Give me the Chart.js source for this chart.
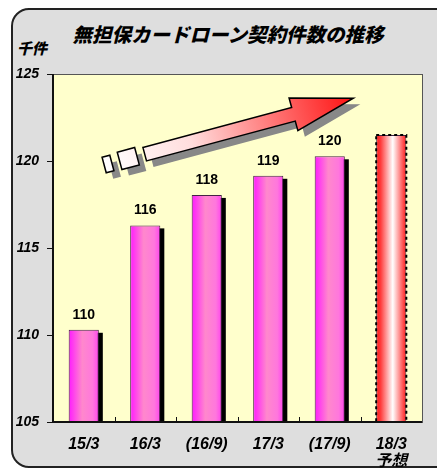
<!DOCTYPE html>
<html>
<head>
<meta charset="utf-8">
<script src="https://cdn.jsdelivr.net/npm/chart.js@4"></script>
<style>
  body { margin: 0; background: #fff; }
  #wrap { position: relative; width: 437px; height: 471px; overflow: hidden; }
  #frame {
    position: absolute; left: 11px; top: 8px; width: 440px; height: 456px;
    border: 2px solid #222; border-radius: 18px; background: #dedede;
  }
  #title {
    position: absolute; left: 0; width: 456px; top: 19px; text-align: center;
    font: italic 900 19.5px "Noto Sans CJK JP", sans-serif; color: #000;
  }
  #unit {
    position: absolute; left: 17px; top: 37px;
    font: italic 900 15px "Noto Sans CJK JP", sans-serif; color: #000;
  }
  canvas { position: absolute; left: 0; top: 0; }
</style>
</head>
<body>
<div id="wrap">
  <div id="frame"></div>
  <div id="title">無担保カードローン契約件数の推移</div>
  <div id="unit">千件</div>
  <canvas id="chart" width="437" height="471"></canvas>
</div>
<script>
const categories = ["15/3", "16/3", "(16/9)", "17/3", "(17/9)", ["18/3", "予想"]];
const counts = [110.3, 116.3, 118.05, 119.15, 120.27, 121.5];
const valueLabels = ["110", "116", "118", "119", "120", ""];
const yTicks = [105, 110, 115, 120, 125];

const chartEl = document.getElementById("chart");
const barPct = 0.49;

// horizontal gradient for each bar, built from the x scale
const barFill = (ctx) => {
  const xs = ctx.chart.scales.x;
  const area = ctx.chart.chartArea;
  if (!xs || !area) return "#ff66dd";
  const cx = xs.getPixelForValue(ctx.dataIndex);
  const w = ((area.right - area.left) / categories.length) * barPct;
  if (!isFinite(cx) || !isFinite(w)) return "#ff66dd";
  const x0 = cx - w / 2;
  const g = ctx.chart.ctx.createLinearGradient(x0, 0, x0 + w, 0);
  if (ctx.dataIndex === counts.length - 1) {
    g.addColorStop(0, "#ff1a1a");
    g.addColorStop(0.15, "#ff3c3c");
    g.addColorStop(0.55, "#ffffff");
    g.addColorStop(0.85, "#ff6666");
    g.addColorStop(1, "#ff1a1a");
  } else {
    g.addColorStop(0, "#ff1aff");
    g.addColorStop(0.45, "#ff88cc");
    g.addColorStop(0.8, "#ff77dd");
    g.addColorStop(1, "#ff44ee");
  }
  return g;
};

// arrow outline in its own rotated frame
const arrowPath = (c) => {
  c.beginPath();
  c.rect(-4, -8, 8, 16);
  c.rect(12, -9, 18, 18);
  c.moveTo(38, -7);
  c.lineTo(192, -7);
  c.lineTo(192, -17);
  c.lineTo(254, 0);
  c.lineTo(192, 17);
  c.lineTo(192, 7);
  c.lineTo(38, 7);
  c.closePath();
};

const decorPlugin = {
  id: "decor",
  beforeDraw: (chart) => {
    const c = chart.ctx;
    const a = chart.chartArea;
    c.save();
    c.fillStyle = "#ffffcc";
    c.fillRect(a.left, a.top, a.right - a.left, a.bottom - a.top);
    c.strokeStyle = "#555";
    c.lineWidth = 1;
    c.strokeRect(a.left + 0.5, a.top + 0.5, a.right - a.left, a.bottom - a.top);
    c.restore();
  },
  beforeDatasetsDraw: (chart) => {
    const c = chart.ctx;
    const a = chart.chartArea;
    const meta = chart.getDatasetMeta(0);
    c.save();
    // bar shadows
    c.fillStyle = "#000";
    meta.data.forEach((bar, i) => {
      if (i === counts.length - 1) return;
      const x0 = bar.x - bar.width / 2 + 4;
      c.fillRect(x0, bar.y + 3, bar.width, a.bottom - bar.y - 3);
    });
    // trend arrow
    const ox = a.left + 55;
    const oy = a.top + 90;
    const ang = -15 * Math.PI / 180;
    c.save();
    c.translate(ox + 7, oy + 6);
    c.rotate(ang);
    c.fillStyle = "#888888";
    arrowPath(c);
    c.fill();
    c.restore();

    c.save();
    c.translate(ox, oy);
    c.rotate(ang);
    const g = c.createLinearGradient(-4, 0, 254, 0);
    g.addColorStop(0, "#ffffff");
    g.addColorStop(0.35, "#ffdddd");
    g.addColorStop(1, "#ff1111");
    c.fillStyle = g;
    c.strokeStyle = "#000";
    c.lineWidth = 1.5;
    arrowPath(c);
    c.fill();
    c.stroke();
    c.restore();
    c.restore();
  },
  afterDatasetsDraw: (chart) => {
    const c = chart.ctx;
    const a = chart.chartArea;
    const meta = chart.getDatasetMeta(0);
    const xs = chart.scales.x;
    c.save();
    // dashed border on forecast bar
    const last = meta.data[counts.length - 1];
    c.setLineDash([3, 3]);
    c.strokeStyle = "#000";
    c.lineWidth = 2;
    c.strokeRect(last.x - last.width / 2, last.y, last.width, a.bottom - last.y);
    c.setLineDash([]);
    // value labels
    c.fillStyle = "#000";
    c.font = "bold 14px 'Liberation Sans', Arial, sans-serif";
    c.textAlign = "center";
    c.textBaseline = "bottom";
    meta.data.forEach((bar, i) => {
      if (valueLabels[i]) c.fillText(valueLabels[i], bar.x, bar.y - 8);
    });
    // axes
    c.strokeStyle = "#111";
    c.lineWidth = 2;
    c.beginPath();
    c.moveTo(a.left, a.top);
    c.lineTo(a.left, a.bottom);
    c.lineTo(a.right, a.bottom);
    c.stroke();
    // x category ticks (inside)
    c.lineWidth = 1;
    c.beginPath();
    for (let i = 1; i < categories.length; i++) {
      const x = Math.round((xs.getPixelForValue(i - 1) + xs.getPixelForValue(i)) / 2) + 0.5;
      c.moveTo(x, a.bottom);
      c.lineTo(x, a.bottom - 5);
    }
    c.stroke();
    c.restore();
  },
};

new Chart(chartEl, {
  type: "bar",
  data: {
    labels: categories,
    datasets: [
      {
        data: counts,
        backgroundColor: barFill,
        borderColor: "#442244",
        borderWidth: 1,
        categoryPercentage: 1,
        barPercentage: barPct,
      },
    ],
  },
  options: {
    responsive: false,
    animation: false,
    layout: { padding: { top: 74, right: 15, left: 0, bottom: 0 } },
    scales: {
      x: {
        grid: { display: false, drawTicks: false },
        border: { display: false },
        ticks: {
          color: "#000",
          padding: 14,
          font: { family: "'Liberation Sans', 'Noto Sans CJK JP', sans-serif", size: 16, style: "italic", weight: "bold", lineHeight: 1.05 },
        },
        afterFit: (s) => { s.height = 49; },
      },
      y: {
        min: 105,
        max: 125,
        afterBuildTicks: (s) => { s.ticks = yTicks.map((v) => ({ value: v })); },
        grid: { drawOnChartArea: false, tickLength: 6, color: "#111", lineWidth: 1 },
        border: { display: false },
        ticks: {
          color: "#000",
          padding: 8,
          font: { family: "'Liberation Sans', Arial, sans-serif", size: 14, style: "italic", weight: "bold" },
        },
        afterFit: (s) => { s.width = 53; },
      },
    },
    plugins: {
      legend: { display: false },
      tooltip: { enabled: false },
    },
  },
  plugins: [decorPlugin],
});
</script>
</body>
</html>
